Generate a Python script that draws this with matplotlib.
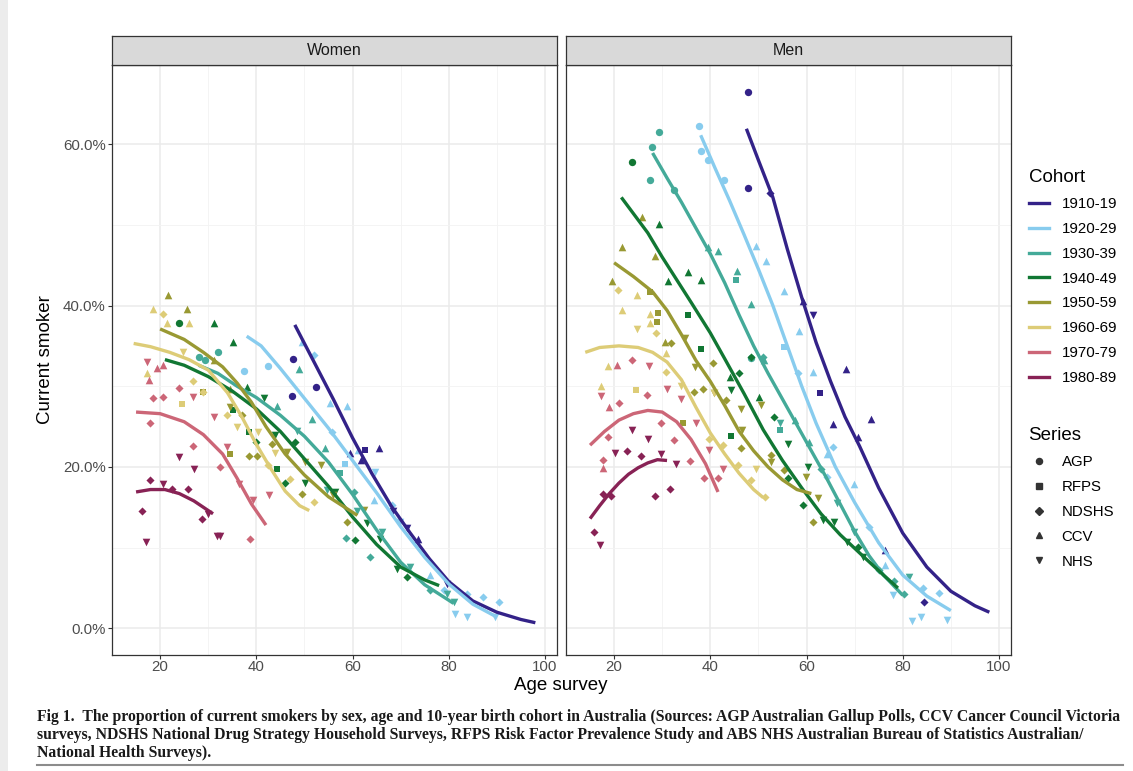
import matplotlib.pyplot as plt
from matplotlib.lines import Line2D
from matplotlib.patches import Rectangle
from matplotlib.ticker import MultipleLocator, FuncFormatter

plt.rcParams['font.family'] = ['Liberation Sans', 'DejaVu Sans']

# Cohorts and their colours
cohorts = ['1910-19', '1920-29', '1930-39', '1940-49', '1950-59', '1960-69', '1970-79', '1980-89']
colors = ['#332288', '#88CCEE', '#44AA99', '#117733', '#999933', '#DDCC77', '#CC6677', '#882255']

# Survey series: code -> (label, marker, size)
series_codes = ['A', 'R', 'N', 'C', 'H']
series_names = ['AGP', 'RFPS', 'NDSHS', 'CCV', 'NHS']
series_markers = ['o', 's', 'D', '^', 'v']
series_sizes = [28, 22, 17, 30, 30]

# ---- Women: survey points (age, % smoking, series) ----
w_1910 = [(47.6, 33.4, 'A'), (47.4, 28.8, 'A'), (52.4, 29.9, 'A'), (59.4, 21.7, 'C'), (62.6, 22.1, 'R'),
          (65.6, 22.3, 'C'), (61.8, 20.8, 'C'), (68.5, 14.6, 'H'), (71.3, 12.4, 'H'), (73.7, 11.1, 'C'),
          (79.6, 5.5, 'H')]
w_1920 = [(37.5, 31.9, 'A'), (42.5, 32.5, 'A'), (49.5, 35.5, 'C'), (51.9, 33.9, 'N'), (55.3, 27.9, 'C'),
          (58.8, 27.5, 'C'), (55.7, 24.3, 'N'), (61.2, 22.1, 'C'), (58.5, 20.4, 'R'), (64.7, 19.4, 'H'),
          (64.5, 15.9, 'C'), (68.2, 15.3, 'N'), (69.9, 13.2, 'H'), (76.1, 6.6, 'C'), (83.8, 4.3, 'N'),
          (87.2, 3.9, 'N'), (90.4, 3.3, 'N'), (81.3, 1.8, 'H'), (83.8, 1.4, 'H'), (89.6, 1.4, 'H'),
          (79.0, 4.8, 'N')]
w_1930 = [(32.1, 34.3, 'A'), (29.4, 33.2, 'A'), (28.0, 33.6, 'A'), (48.8, 32.1, 'C'), (44.3, 27.5, 'C'),
          (51.5, 26.0, 'C'), (48.4, 24.5, 'H'), (54.3, 22.3, 'C'), (57.4, 19.2, 'R'), (54.7, 17.1, 'H'),
          (60.2, 16.9, 'N'), (60.9, 14.6, 'H'), (66.1, 11.9, 'H'), (58.7, 11.2, 'N'), (63.7, 8.8, 'N'),
          (72.0, 7.6, 'H'), (76.1, 4.7, 'N'), (79.6, 4.3, 'H'), (81.0, 3.3, 'H')]
w_1940 = [(24.0, 37.8, 'A'), (31.3, 37.8, 'C'), (35.2, 35.5, 'C'), (38.0, 29.9, 'C'), (41.5, 28.5, 'H'),
          (35.2, 27.0, 'R'), (38.4, 24.3, 'R'), (40.0, 23.1, 'N'), (43.9, 23.9, 'H'), (44.3, 19.7, 'R'),
          (46.0, 18.0, 'N'), (48.1, 23.1, 'N'), (50.1, 18.0, 'H'), (56.4, 16.9, 'H'), (63.0, 13.1, 'H'),
          (60.5, 10.9, 'N'), (65.7, 11.1, 'H'), (69.2, 7.4, 'H'), (71.3, 6.4, 'N')]
w_1950 = [(21.7, 41.3, 'C'), (25.5, 39.6, 'C'), (31.1, 33.2, 'C'), (34.6, 29.7, 'C'), (29.0, 29.3, 'R'),
          (34.6, 27.4, 'H'), (37.0, 26.4, 'N'), (43.2, 22.9, 'N'), (34.6, 21.6, 'R'), (38.4, 21.3, 'N'),
          (40.1, 21.3, 'N'), (46.3, 21.9, 'H'), (50.1, 20.6, 'H'), (53.4, 20.3, 'H'), (49.5, 16.6, 'N'),
          (56.0, 16.5, 'H'), (58.8, 13.2, 'N'), (62.3, 14.7, 'H')]
w_1960 = [(18.6, 39.6, 'C'), (20.7, 39.0, 'N'), (21.4, 37.8, 'C'), (26.0, 37.8, 'C'), (24.8, 34.3, 'H'),
          (17.2, 31.6, 'C'), (26.9, 30.7, 'N'), (29.0, 29.3, 'N'), (24.5, 27.8, 'R'), (33.9, 26.4, 'N'),
          (40.4, 24.3, 'H'), (43.9, 21.7, 'H'), (42.5, 20.2, 'N'), (51.9, 15.7, 'N'), (47.0, 18.5, 'N'),
          (36.0, 25.0, 'H')]
w_1970 = [(17.2, 33.0, 'H'), (19.3, 32.2, 'C'), (20.7, 32.6, 'C'), (17.6, 30.8, 'C'), (24.0, 29.8, 'N'),
          (18.6, 28.6, 'N'), (20.7, 28.7, 'N'), (26.9, 28.7, 'H'), (31.1, 26.2, 'H'), (17.9, 25.4, 'N'),
          (33.9, 22.5, 'H'), (26.8, 22.6, 'N'), (32.5, 20.0, 'N'), (36.3, 17.9, 'H'), (39.4, 15.9, 'H'),
          (42.7, 16.5, 'H'), (38.7, 11.1, 'N')]
w_1980 = [(24.0, 21.2, 'H'), (27.1, 19.8, 'H'), (17.8, 18.4, 'N'), (20.6, 17.9, 'H'), (22.4, 17.3, 'N'),
          (25.7, 17.3, 'N'), (16.2, 14.6, 'N'), (28.7, 13.6, 'N'), (30.0, 14.2, 'H'), (17.1, 10.7, 'H'),
          (31.8, 11.5, 'H'), (32.5, 11.4, 'H')]

# ---- Men: survey points ----
m_1910 = [(47.8, 66.5, 'A'), (47.8, 54.6, 'A'), (52.5, 54.0, 'N'), (59.2, 40.5, 'C'), (61.3, 38.8, 'H'),
          (68.1, 32.1, 'C'), (62.7, 29.1, 'R'), (73.4, 26.0, 'C'), (65.5, 25.3, 'C'), (70.8, 23.7, 'C'),
          (76.4, 9.7, 'C'), (84.5, 3.3, 'N')]
m_1920 = [(37.7, 62.3, 'A'), (38.1, 59.2, 'A'), (39.6, 58.0, 'A'), (42.8, 55.5, 'A'), (49.5, 47.4, 'C'),
          (51.6, 45.5, 'C'), (55.4, 41.8, 'C'), (58.5, 36.9, 'C'), (55.4, 34.9, 'R'), (61.3, 31.8, 'C'),
          (58.3, 31.6, 'N'), (64.3, 21.6, 'C'), (64.3, 18.8, 'N'), (69.8, 17.9, 'C'), (72.9, 12.6, 'N'),
          (76.4, 7.8, 'C'), (84.2, 5.0, 'N'), (87.6, 4.4, 'N'), (77.9, 4.1, 'H'), (82.0, 0.9, 'H'),
          (83.8, 1.4, 'H'), (89.3, 1.0, 'H'), (65.5, 22.5, 'N')]
m_1930 = [(29.4, 61.5, 'A'), (27.8, 59.6, 'A'), (27.5, 55.5, 'A'), (32.5, 54.3, 'A'), (39.5, 47.3, 'C'),
          (41.6, 46.7, 'C'), (45.6, 44.3, 'C'), (45.3, 43.2, 'R'), (48.5, 40.2, 'C'), (51.2, 33.2, 'C'),
          (48.4, 33.5, 'A'), (50.9, 33.6, 'N'), (54.4, 25.5, 'H'), (54.4, 24.6, 'R'), (57.5, 25.8, 'C'),
          (60.6, 23.1, 'C'), (63.1, 19.7, 'N'), (66.4, 15.5, 'H'), (69.9, 12.0, 'H'), (75.1, 7.2, 'N'),
          (78.2, 5.9, 'N'), (80.3, 4.3, 'N'), (81.2, 6.4, 'H')]
m_1940 = [(23.7, 57.8, 'A'), (29.3, 50.1, 'C'), (35.4, 44.1, 'C'), (31.3, 43.0, 'C'), (38.1, 43.1, 'C'),
          (35.4, 38.8, 'R'), (38.1, 34.6, 'R'), (48.5, 33.6, 'N'), (44.1, 31.2, 'C'), (46.0, 31.7, 'N'),
          (44.2, 29.5, 'H'), (50.2, 28.7, 'C'), (44.2, 23.8, 'R'), (53.2, 26.2, 'N'), (56.1, 22.8, 'H'),
          (56.1, 18.6, 'N'), (60.3, 20.0, 'H'), (59.2, 15.3, 'N'), (63.4, 13.4, 'H'), (65.8, 13.2, 'H'),
          (68.5, 10.7, 'H'), (70.6, 10.1, 'N'), (71.7, 8.8, 'H')]
m_1950 = [(25.8, 51.0, 'C'), (21.6, 47.2, 'C'), (28.4, 46.1, 'C'), (19.5, 43.0, 'C'), (27.5, 41.7, 'R'),
          (29.1, 39.1, 'R'), (29.0, 37.9, 'R'), (30.5, 35.5, 'C'), (31.9, 35.3, 'N'), (34.7, 36.0, 'H'),
          (36.9, 32.4, 'H'), (40.5, 32.9, 'N'), (36.7, 29.3, 'N'), (38.4, 29.6, 'N'), (40.8, 29.1, 'H'),
          (43.3, 28.3, 'N'), (46.4, 27.2, 'H'), (50.6, 27.7, 'H'), (34.4, 25.4, 'R'), (46.6, 24.6, 'H'),
          (46.4, 22.4, 'N'), (52.6, 21.5, 'N'), (52.6, 20.6, 'H'), (59.8, 18.8, 'H'), (62.3, 16.1, 'H'),
          (61.4, 13.2, 'N'), (55.4, 19.6, 'N')]
m_1960 = [(20.8, 41.9, 'N'), (24.8, 41.3, 'C'), (21.6, 39.4, 'C'), (27.5, 39.0, 'C'), (27.5, 37.8, 'C'),
          (24.8, 37.1, 'H'), (28.7, 36.6, 'N'), (30.7, 34.1, 'C'), (18.7, 32.5, 'C'), (30.7, 31.8, 'N'),
          (17.2, 30.0, 'C'), (24.6, 29.5, 'R'), (33.9, 30.0, 'H'), (40.7, 29.1, 'H'), (39.7, 23.5, 'N'),
          (42.6, 22.7, 'N'), (45.7, 20.2, 'N'), (49.5, 19.8, 'H'), (48.5, 18.4, 'N'), (51.4, 16.3, 'N')]
m_1970 = [(20.6, 32.6, 'C'), (23.7, 33.2, 'N'), (27.2, 32.5, 'H'), (17.2, 28.8, 'H'), (30.9, 29.7, 'H'),
          (26.8, 28.9, 'N'), (33.9, 28.4, 'H'), (19.0, 27.4, 'C'), (21.0, 27.9, 'N'), (29.8, 25.4, 'N'),
          (37.0, 25.4, 'H'), (18.8, 23.7, 'N'), (32.5, 23.4, 'N'), (39.8, 22.1, 'H'), (35.7, 20.7, 'N'),
          (17.7, 20.9, 'N'), (17.7, 19.9, 'C'), (42.6, 19.8, 'H'), (38.6, 18.6, 'N'), (41.5, 18.6, 'N')]
m_1980 = [(23.8, 24.6, 'H'), (27.0, 23.5, 'H'), (20.1, 21.7, 'H'), (22.7, 22.0, 'N'), (25.6, 21.3, 'N'),
          (29.8, 21.6, 'H'), (32.9, 20.4, 'H'), (17.7, 16.6, 'N'), (19.4, 16.4, 'N'), (28.6, 16.4, 'N'),
          (31.7, 17.3, 'N'), (15.9, 11.9, 'N'), (17.1, 10.3, 'H')]

# ---- Smoothed trend per cohort: (ages, values) ----
w_fit_1910 = ([48, 52, 56, 60, 64, 68, 72, 76, 80, 85, 90, 95, 98],
              [37.6, 33.0, 28.4, 23.6, 19.2, 15.2, 11.8, 8.6, 5.8, 3.4, 2.0, 1.1, 0.7])
w_fit_1920 = ([38, 41, 45, 50, 55, 60, 65, 70, 75, 80, 85, 90],
              [36.2, 35.0, 32.2, 28.5, 24.8, 20.8, 16.8, 12.6, 8.8, 5.5, 3.0, 1.4])
w_fit_1930 = ([28, 32, 36, 40, 45, 50, 55, 60, 65, 70, 75, 81],
              [32.6, 31.6, 30.0, 28.6, 26.4, 23.8, 20.6, 16.6, 12.2, 8.2, 5.4, 3.1])
w_fit_1940 = ([21, 25, 30, 35, 40, 45, 50, 55, 60, 65, 70, 75, 78],
              [33.3, 32.6, 31.2, 29.4, 27.2, 24.4, 21.0, 17.6, 13.8, 10.4, 7.6, 6.0, 5.3])
w_fit_1950 = ([20, 25, 29, 33, 36, 39, 42, 46, 50, 55, 61],
              [37.1, 35.8, 34.2, 32.4, 30.4, 28.0, 25.0, 21.6, 19.0, 16.3, 14.0])
w_fit_1960 = ([14.5, 18, 22, 26, 30, 34, 37, 40, 43, 46, 49, 51],
              [35.3, 34.9, 34.2, 33.3, 32.0, 29.2, 26.2, 22.8, 19.8, 17.0, 15.2, 14.6])
w_fit_1970 = ([15, 20, 25, 29, 33, 36, 39, 42],
              [26.8, 26.6, 25.6, 24.0, 21.6, 18.6, 15.4, 12.8])
w_fit_1980 = ([15, 18, 21, 24, 27, 31],
              [16.9, 17.2, 17.2, 16.7, 15.8, 14.2])

m_fit_1910 = ([47.5, 50, 53, 56, 59, 62, 65, 68, 71, 75, 80, 85, 90, 95, 98],
              [61.9, 58.0, 53.4, 47.0, 41.0, 35.4, 30.6, 26.2, 22.6, 17.4, 11.8, 7.6, 4.6, 2.8, 2.0])
m_fit_1920 = ([38, 41, 44, 47, 50, 53, 56, 59, 62, 66, 70, 75, 80, 85, 90],
              [61.1, 57.0, 53.0, 48.8, 44.5, 40.0, 35.0, 30.0, 25.4, 20.0, 15.6, 10.6, 6.6, 4.0, 2.2])
m_fit_1930 = ([28, 31, 34, 37, 40, 43, 46, 49, 52, 55, 58, 61, 64, 67, 70, 73, 76, 80],
              [58.9, 55.8, 52.8, 49.6, 46.4, 42.8, 38.8, 35.0, 31.6, 28.4, 25.2, 22.0, 18.8, 15.4, 12.0,
               9.0, 6.6, 4.1])
m_fit_1940 = ([21.5, 24, 27, 30, 33, 36, 40, 43, 47, 51, 55, 59, 63, 67, 72, 76, 79],
              [53.4, 51.4, 49.0, 46.0, 43.2, 40.4, 36.6, 33.4, 29.1, 24.6, 20.8, 17.4, 14.2, 11.6, 8.8,
               6.6, 5.0])
m_fit_1950 = ([20, 24, 28, 31, 34, 37, 40, 43, 46, 49, 52, 55, 58, 61],
              [45.3, 43.6, 41.7, 39.4, 36.4, 33.2, 30.6, 27.6, 24.4, 22.0, 20.0, 18.4, 17.2, 16.7])
m_fit_1960 = ([14, 17, 21, 25, 28, 31, 34, 37, 40, 43, 46, 49, 51],
              [34.2, 34.8, 35.0, 34.8, 34.2, 33.0, 30.8, 27.4, 24.2, 21.6, 19.2, 17.2, 16.2])
m_fit_1970 = ([15, 18, 21, 24, 27, 30, 33, 36, 39, 41.6],
              [22.7, 24.4, 25.8, 26.6, 27.0, 26.8, 25.6, 23.4, 20.4, 16.9])
m_fit_1980 = ([15, 17, 19, 21, 23, 25, 27, 29, 31],
              [13.6, 15.2, 16.7, 18.0, 19.1, 19.9, 20.5, 20.9, 20.8])

women_points = [w_1910, w_1920, w_1930, w_1940, w_1950, w_1960, w_1970, w_1980]
men_points = [m_1910, m_1920, m_1930, m_1940, m_1950, m_1960, m_1970, m_1980]
women_fits = [w_fit_1910, w_fit_1920, w_fit_1930, w_fit_1940, w_fit_1950, w_fit_1960, w_fit_1970, w_fit_1980]
men_fits = [m_fit_1910, m_fit_1920, m_fit_1930, m_fit_1940, m_fit_1950, m_fit_1960, m_fit_1970, m_fit_1980]

W, H = 1133, 771
fig = plt.figure(figsize=(W / 100, H / 100), dpi=100)
fig.patch.set_facecolor('white')
# grey page margin on the left
fig.patches.append(Rectangle((0, 0), 8 / W, 1, transform=fig.transFigure, facecolor='#ececec',
                             edgecolor='none', zorder=0))

panel_bottom = (H - 655) / H
panel_height = (655 - 65) / H
strip_height = 29 / H


def pct(v, pos):
    return f'{v:.1f}%'


def draw_panel(left, title, points, fits, show_y):
    ax = fig.add_axes([left / W, panel_bottom, 445 / W, panel_height])
    ax.set_xlim(10, 102.5)
    ax.set_ylim(-3.3, 69.8)
    ax.xaxis.set_major_locator(MultipleLocator(20))
    ax.xaxis.set_minor_locator(MultipleLocator(10))
    ax.yaxis.set_major_locator(MultipleLocator(20))
    ax.yaxis.set_minor_locator(MultipleLocator(10))
    ax.grid(which='major', color='#ebebeb', lw=1.1, zorder=0)
    ax.grid(which='minor', color='#f3f3f3', lw=0.6, zorder=0)
    ax.set_axisbelow(True)
    for sp in ax.spines.values():
        sp.set_color('#333333')
        sp.set_linewidth(0.9)
    ax.tick_params(which='major', length=3, color='#333333', labelsize=10.8, labelcolor='#4d4d4d', pad=1.5)
    ax.tick_params(axis='x', pad=0.5)
    ax.tick_params(which='minor', length=0)
    ax.yaxis.set_major_formatter(FuncFormatter(pct))
    if not show_y:
        ax.tick_params(axis='y', labelleft=False, left=False)

    for pts, col in zip(points, colors):
        for code, mk, sz in zip(series_codes, series_markers, series_sizes):
            sel = [p for p in pts if p[2] == code]
            if sel:
                ax.scatter([p[0] for p in sel], [p[1] for p in sel], marker=mk, s=sz, color=col,
                           linewidths=0, zorder=3)
    for (ages, vals), col in zip(fits, colors):
        ax.plot(ages, vals, color=col, lw=2.4, solid_capstyle='butt', zorder=4)

    strip = fig.add_axes([left / W, panel_bottom + panel_height, 445 / W, strip_height])
    strip.set_xticks([])
    strip.set_yticks([])
    strip.set_facecolor('#d9d9d9')
    for sp in strip.spines.values():
        sp.set_color('#333333')
        sp.set_linewidth(0.9)
    strip.text(0.5, 0.5, title, ha='center', va='center', fontsize=11.5, color='#1a1a1a',
               transform=strip.transAxes)
    return ax


ax_w = draw_panel(112, 'Women', women_points, women_fits, True)
ax_m = draw_panel(566, 'Men', men_points, men_fits, False)

fig.text(561 / W, 1 - 686 / H, 'Age survey', ha='center', va='center', fontsize=13.5)
fig.text(45 / W, 1 - 360 / H, 'Current smoker', ha='center', va='center', rotation=90, fontsize=13.5)

# legends
cohort_handles = [Line2D([], [], color=c, lw=2.4) for c in colors]
leg1 = fig.legend(cohort_handles, cohorts, title='Cohort', loc='upper left',
                  bbox_to_anchor=(1015 / W, 1 - 156 / H), frameon=False, fontsize=10.8,
                  title_fontsize=13.5, handlelength=1.35, labelspacing=0.72, handletextpad=0.85,
                  alignment='left')
series_handles = [Line2D([], [], ls='none', marker=m, color='#333333', markersize=ms)
                  for m, ms in zip(series_markers, [4.4, 4.0, 3.6, 4.6, 4.6])]
leg2 = fig.legend(series_handles, series_names, title='Series', loc='upper left',
                  bbox_to_anchor=(1015 / W, 1 - 414 / H), frameon=False, fontsize=10.8,
                  title_fontsize=13.5, handlelength=1.35, labelspacing=0.72, handletextpad=0.85,
                  alignment='left')

caption = ('Fig 1.  The proportion of current smokers by sex, age and 10-year birth cohort in Australia (Sources: AGP Australian Gallup Polls, CCV Cancer Council Victoria\n'
           'surveys, NDSHS National Drug Strategy Household Surveys, RFPS Risk Factor Prevalence Study and ABS NHS Australian Bureau of Statistics Australian/\n'
           'National Health Surveys).')
fig.text(37 / W, 1 - 709 / H, caption, ha='left', va='top', fontsize=11.3, fontweight='bold',
         family='Liberation Serif', linespacing=1.16, color='#1a1a1a')
fig.add_artist(Line2D([37 / W, 1123 / W], [1 - 765 / H, 1 - 765 / H], color='#8c8c8c', lw=1.5))

fig.savefig('out.png', dpi=100)
